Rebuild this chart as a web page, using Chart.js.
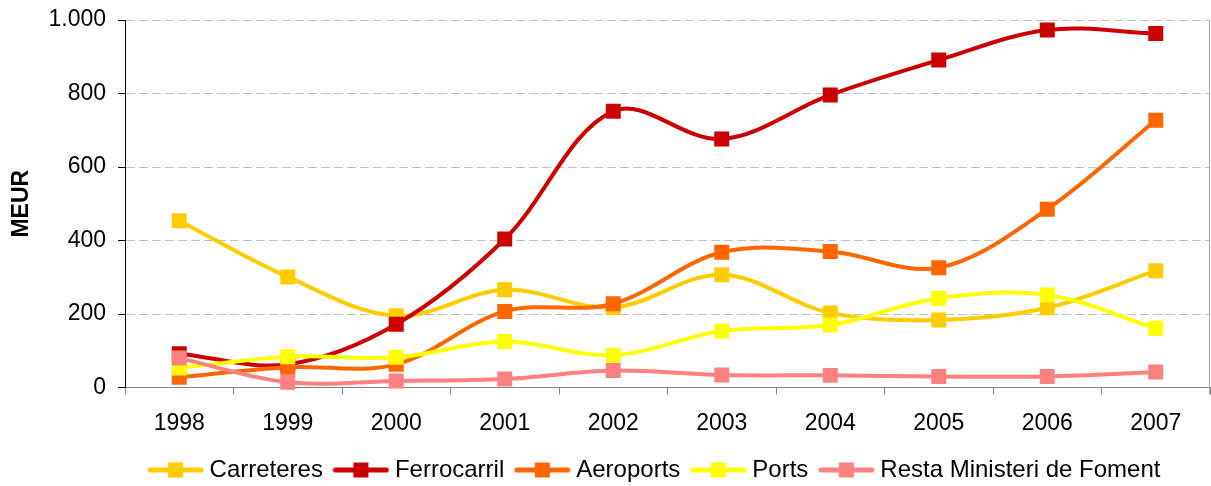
<!DOCTYPE html>
<html>
<head>
<meta charset="utf-8">
<script src="https://cdn.jsdelivr.net/npm/chart.js@4/dist/chart.umd.min.js"></script>
<style>
  html, body { margin: 0; padding: 0; background: #ffffff; }
  #wrap { width: 1211px; height: 486px; position: relative; }
</style>
</head>
<body>
<div id="wrap"><canvas id="c" width="1211" height="486"></canvas></div>
<script>
const categories = ['1998', '1999', '2000', '2001', '2002', '2003', '2004', '2005', '2006', '2007'];
const carreteres  = [454, 301, 195, 266, 218, 307, 203, 184, 217, 318];
const ferrocarril = [92, 63, 172, 404, 752, 676, 796, 891, 973, 963];
const aeroports   = [28, 55, 63, 207, 228, 368, 370, 326, 485, 727];
const ports       = [53, 84, 82, 125, 88, 154, 170, 243, 252, 161];
const resta       = [80, 14, 18, 23, 46, 34, 33, 30, 30, 42];
const seriesNames = ['Carreteres', 'Ferrocarril', 'Aeroports', 'Ports', 'Resta Ministeri de Foment'];
const seriesColors = ['#FFCC00', '#CC0000', '#FF6600', '#FFFF00', '#FF8080'];
const yTicks = [0, 200, 400, 600, 800, 1000];
const yTitle = 'MEUR';

const seriesValues = [carreteres, ferrocarril, aeroports, ports, resta];

function legendIcon(color) {
  const cv = document.createElement('canvas');
  cv.width = 57; cv.height = 17;
  const c = cv.getContext('2d');
  c.strokeStyle = color; c.lineWidth = 5; c.lineCap = 'round';
  c.beginPath(); c.moveTo(3, 8.5); c.lineTo(54, 8.5); c.stroke();
  c.fillStyle = color; c.fillRect(21, 1, 15, 15);
  return cv;
}
const icons = seriesColors.map(legendIcon);

const FONT = "'Liberation Sans', Arial, sans-serif";

const datasets = seriesNames.map((name, i) => ({
  label: name,
  data: seriesValues[i],
  borderColor: seriesColors[i],
  backgroundColor: seriesColors[i],
  borderWidth: 4,
  pointStyle: 'rect',
  pointRadius: 10.6,
  pointHoverRadius: 10.6,
  pointBorderWidth: 0,
  tension: 0.35,
  fill: false,
  clip: 12,
  order: seriesNames.length - i
}));

const fmt = v => v >= 1000 ? Math.floor(v / 1000) + '.' + String(v % 1000).padStart(3, '0') : String(v);

const frame = {
  id: 'frame',
  afterLayout(chart) {
    const lg = chart.legend;
    const h = lg.bottom - lg.top;
    lg.left += 52; lg.right += 52;
    lg.top = 442; lg.bottom = 442 + h;
  },
  beforeDatasetsDraw(chart) {
    const {ctx, chartArea: a} = chart;
    ctx.save();
    ctx.strokeStyle = '#A6A6A6';
    ctx.lineWidth = 1;
    ctx.beginPath();
    ctx.moveTo(Math.round(a.right) - 0.5, a.top);
    ctx.lineTo(Math.round(a.right) - 0.5, a.bottom + 7);
    ctx.stroke();
    ctx.restore();
  }
};

new Chart(document.getElementById('c'), {
  type: 'line',
  data: { labels: categories, datasets },
  plugins: [frame],
  options: {
    responsive: false,
    animation: false,
    layout: { autoPadding: false, padding: { top: 20, right: 1, left: 0, bottom: 0 } },
    plugins: {
      tooltip: { enabled: false },
      legend: {
        position: 'bottom',
        labels: {
          usePointStyle: true,
          pointStyleWidth: 44,
          padding: 16,
          color: '#000000',
          font: { family: FONT, size: 24 },
          generateLabels(chart) {
            const items = Chart.defaults.plugins.legend.labels.generateLabels(chart);
            items.forEach(it => { it.pointStyle = icons[it.datasetIndex]; });
            return items;
          },
          sort: (a, b) => a.datasetIndex - b.datasetIndex
        }
      }
    },
    scales: {
      x: {
        type: 'category',
        offset: true,
        afterFit(scale) {
          scale.height = 486 - 387.5 - scale.chart.legend.height;
          scale.paddingLeft = 0; scale.paddingRight = 0;
        },
        grid: {
          offset: true,
          drawOnChartArea: false,
          drawTicks: true,
          tickLength: 7,
          tickColor: '#808080',
          tickWidth: 1
        },
        border: { display: true, color: '#808080', width: 1 },
        ticks: {
          color: '#000000',
          font: { family: FONT, size: 23 },
          padding: 15,
          maxRotation: 0,
          autoSkip: false
        }
      },
      y: {
        min: 0,
        max: 1000,
        afterFit(scale) {
          scale.width = 125;
          scale.paddingTop = 0; scale.paddingBottom = 0;
        },
        afterBuildTicks(scale) { scale.ticks = yTicks.map(v => ({ value: v })); },
        grid: {
          color: '#C0C0C0',
          drawTicks: true,
          tickLength: 7,
          tickColor: '#000000',
          tickWidth: 1
        },
        border: { display: true, color: '#000000', width: 1, dash: [9, 4] },
        ticks: {
          color: '#000000',
          font: { family: FONT, size: 23 },
          padding: 12,
          callback: v => fmt(v)
        },
        title: {
          display: true,
          text: yTitle,
          color: '#000000',
          font: { family: FONT, size: 23, weight: 'bold' },
          padding: { top: 8, bottom: 0 }
        }
      }
    }
  }
});
</script>
</body>
</html>
